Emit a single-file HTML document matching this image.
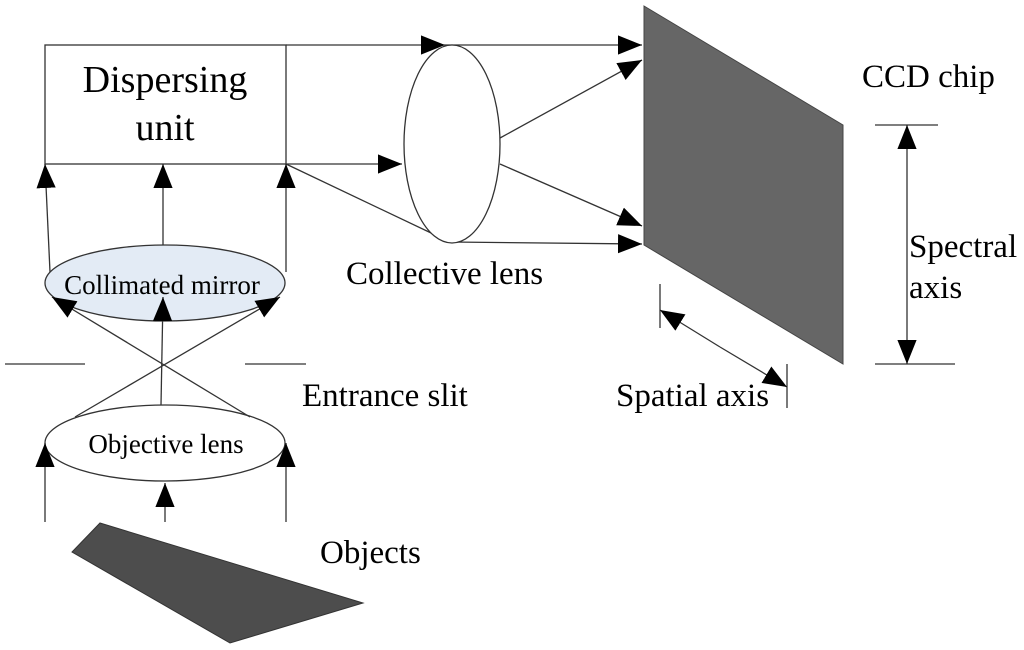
<!DOCTYPE html>
<html><head><meta charset="utf-8"><style>
html,body{margin:0;padding:0;background:#fff;}
svg{display:block;}
text{font-family:"Liberation Serif",serif;fill:#000;}
</style></head><body>
<svg width="1024" height="650" viewBox="0 0 1024 650" xmlns="http://www.w3.org/2000/svg">
<defs>
<marker id="a" viewBox="0 0 10 10" refX="10" refY="5" markerWidth="24" markerHeight="24" markerUnits="userSpaceOnUse" orient="auto">
<path d="M0,1 L10,5 L0,9 z" fill="#000"/>
</marker>
</defs>
<g stroke="#333" stroke-width="1.3" fill="none">
<rect x="45" y="45" width="241" height="119"/>
<line x1="286" y1="45" x2="445" y2="45" marker-end="url(#a)"/>
<line x1="445" y1="45" x2="642" y2="45" marker-end="url(#a)"/>
<line x1="286" y1="164" x2="402" y2="164" marker-end="url(#a)"/>
<line x1="286" y1="164" x2="450" y2="242"/>
<line x1="450" y1="242" x2="642" y2="244" marker-end="url(#a)"/>
<line x1="500" y1="138" x2="642" y2="60" marker-end="url(#a)"/>
<line x1="500" y1="164" x2="642" y2="226" marker-end="url(#a)"/>
<ellipse cx="452" cy="144" rx="48" ry="99" fill="#fff"/>
<line x1="50" y1="272" x2="45" y2="164" marker-end="url(#a)"/>
<line x1="163" y1="245" x2="163" y2="164" marker-end="url(#a)"/>
<line x1="286" y1="272" x2="286" y2="164" marker-end="url(#a)"/>
<ellipse cx="165" cy="283" rx="120" ry="38" fill="#e3ebf5"/>
<line x1="75" y1="417" x2="280" y2="297" marker-end="url(#a)"/>
<line x1="250" y1="417" x2="52" y2="297" marker-end="url(#a)"/>
<line x1="161" y1="405" x2="163" y2="297" marker-end="url(#a)"/>
<line x1="5" y1="364" x2="85" y2="364"/>
<line x1="245" y1="364" x2="306" y2="364"/>
<ellipse cx="165" cy="443" rx="120" ry="38" fill="none"/>
<line x1="45" y1="522" x2="45" y2="443" marker-end="url(#a)"/>
<line x1="286" y1="522" x2="286" y2="443" marker-end="url(#a)"/>
<line x1="165" y1="522" x2="165" y2="483" marker-end="url(#a)"/>
<line x1="875" y1="125" x2="938" y2="125"/>
<line x1="875" y1="364" x2="955" y2="364"/>
<line x1="907" y1="250" x2="907" y2="364" marker-end="url(#a)"/>
<line x1="907" y1="250" x2="907" y2="125" marker-end="url(#a)"/>
<line x1="660" y1="284" x2="660" y2="328"/>
<line x1="787" y1="364" x2="787" y2="408"/>
<line x1="720" y1="347" x2="660" y2="310" marker-end="url(#a)"/>
<line x1="720" y1="347" x2="787" y2="387" marker-end="url(#a)"/>
</g>
<polygon points="644,6 843,125 843,364 644,245" fill="#666" stroke="#444" stroke-width="1"/>
<polygon points="100,523 363,603 230,643 72,552" fill="#4d4d4d" stroke="#333" stroke-width="1"/>
<text x="165" y="92" font-size="38" text-anchor="middle">Dispersing</text>
<text x="165" y="140" font-size="38" text-anchor="middle">unit</text>
<text x="162" y="294" font-size="27" text-anchor="middle">Collimated mirror</text>
<text x="166" y="453" font-size="27" text-anchor="middle">Objective lens</text>
<text x="346" y="284" font-size="33">Collective lens</text>
<text x="302" y="406" font-size="33">Entrance slit</text>
<text x="320" y="563" font-size="33">Objects</text>
<text x="862" y="87" font-size="33">CCD chip</text>
<text x="909" y="257" font-size="33">Spectral</text>
<text x="909" y="298" font-size="33">axis</text>
<text x="616" y="406" font-size="33">Spatial axis</text>
</svg>
</body></html>
